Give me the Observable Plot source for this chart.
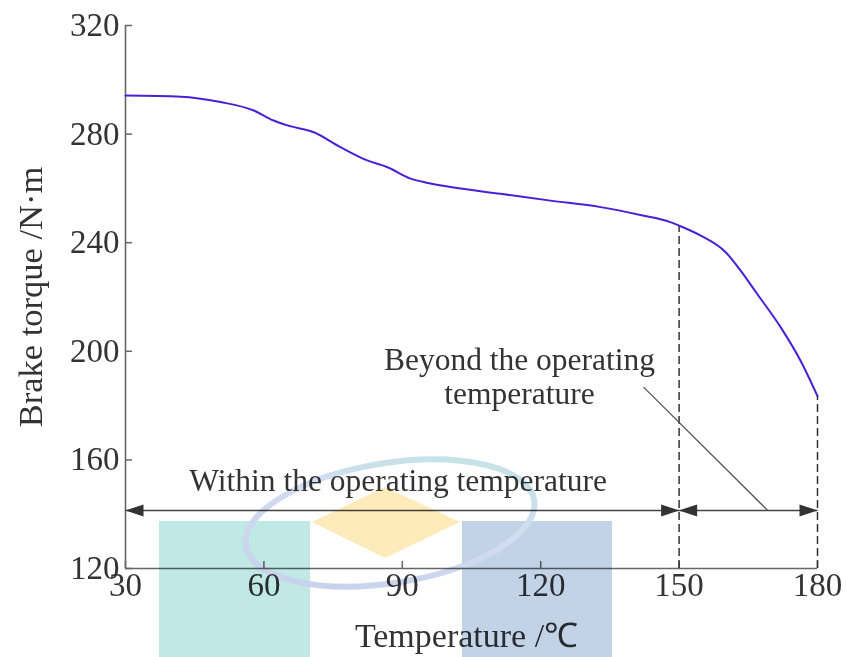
<!DOCTYPE html>
<html>
<head>
<meta charset="utf-8">
<script src="https://cdn.jsdelivr.net/npm/d3@7"></script>
<script src="https://cdn.jsdelivr.net/npm/@observablehq/plot@0.6"></script>
<style>
  html, body { margin: 0; padding: 0; background: #fff; }
  #wrap { position: relative; width: 846px; height: 657px; overflow: hidden; }
  #wm { position: absolute; left: 0; top: 0; mix-blend-mode: multiply; pointer-events: none; }
</style>
</head>
<body>
<div id="wrap"></div>
<script>
// Data
const temperature = [30, 42, 50.6, 57.8, 62.1, 65.1, 70.8, 76.6, 82.4, 86.8, 91.8, 95, 100.5, 111.3, 122.1, 133, 141.6, 148.1, 150, 154.6, 160.1, 163.3, 166.9, 172, 176.3, 180];
const torque      = [294.2, 293.8, 291.8, 288.7, 285, 283.2, 280.7, 275.2, 270.3, 267.8, 263.6, 262.2, 260.5, 258.0, 255.5, 253.1, 250.2, 247.6, 246.3, 242.7, 236.5, 229.8, 221.2, 208.9, 196.6, 183.5];
const xTicks = [30, 60, 90, 120, 150, 180];
const yTicks = [120, 160, 200, 240, 280, 320];
const boundaries = [150, 180];
const rangeStarts = [30, 150];
const rangeEnds = [150, 180];
const arrowLevel = 141.4;
const labelWithin = "Within the operating temperature";
const labelBeyond = "Beyond the operating\ntemperature";
const withinPos = [89.1, 152.4];
const beyondPos = [115.4, 202.3];
const leader = [142.3, 186.8, 169.2, 141.4];
const xLabel = "Temperature /℃";
const yLabel = "Brake torque /N·m";

const xDomain = [30, 180];
const yDomain = [120, 320];
const W = 846, H = 657, mL = 125, mR = 29, mT = 25, mB = 89;

const curve = temperature.map((t, i) => ({t, v: torque[i]}));
const valueAt = t => curve.find(d => d.t === t).v;
const dashed = boundaries.map(t => ({t, v: valueAt(t)}));
const ranges = rangeStarts.map((s, i) => ({s, e: rangeEnds[i]}));

// inward tick length (7px) expressed in data units
const xPerPx = (xDomain[1] - xDomain[0]) / (W - mL - mR);
const yPerPx = (yDomain[1] - yDomain[0]) / (H - mT - mB);
const tickPx = 7;

const ink = "#333";
const font = "Liberation Serif, Times New Roman, serif";

// filled arrowheads as custom symbols (tip at the anchor point)
const headRight = {draw(ctx) { ctx.moveTo(0, 0); ctx.lineTo(-18, -6); ctx.lineTo(-18, 6); ctx.closePath(); }};
const headLeft  = {draw(ctx) { ctx.moveTo(0, 0); ctx.lineTo(18, -6); ctx.lineTo(18, 6); ctx.closePath(); }};

const chart = Plot.plot({
  width: W,
  height: H,
  marginLeft: mL,
  marginRight: mR,
  marginTop: mT,
  marginBottom: mB,
  style: {fontFamily: font, fontSize: "33px", color: ink, background: "transparent"},
  x: {domain: xDomain},
  y: {domain: yDomain},
  marks: [
    Plot.axisX({ticks: xTicks, tickSize: 0, tickPadding: 4, label: null, fill: ink, fontSize: 33}),
    Plot.axisY({ticks: yTicks, tickSize: 0, tickPadding: 6, label: null, fill: ink, fontSize: 33}),
    Plot.ruleX(xTicks, {x: d => d, y1: yDomain[0], y2: yDomain[0] + tickPx * yPerPx, stroke: "#666", strokeWidth: 1.5}),
    Plot.ruleY(yTicks, {y: d => d, x1: xDomain[0], x2: xDomain[0] + tickPx * xPerPx, stroke: "#666", strokeWidth: 1.5}),
    Plot.ruleX([xDomain[0]], {y1: yDomain[0], y2: yDomain[1], stroke: "#666", strokeWidth: 1.6}),
    Plot.ruleY([yDomain[0]], {x1: xDomain[0], x2: xDomain[1], stroke: "#666", strokeWidth: 1.6}),
    Plot.ruleX(dashed, {x: "t", y1: yDomain[0], y2: "v", stroke: "#333", strokeWidth: 1.5, strokeDasharray: "8,4"}),
    Plot.link(ranges, {x1: "s", x2: "e", y1: arrowLevel, y2: arrowLevel, stroke: "#444", strokeWidth: 1.5}),
    Plot.dot(ranges, {x: "s", y: arrowLevel, symbol: headLeft, fill: "#333", stroke: "none"}),
    Plot.dot(ranges, {x: "e", y: arrowLevel, symbol: headRight, fill: "#333", stroke: "none"}),
    Plot.link([leader], {x1: d => d[0], y1: d => d[1], x2: d => d[2], y2: d => d[3], stroke: "#555", strokeWidth: 1.3}),
    Plot.line(curve, {x: "t", y: "v", stroke: "#4a1fd6", strokeWidth: 2, curve: "monotone-x"}),
    Plot.text([labelWithin], {x: withinPos[0], y: withinPos[1], fontSize: 31.5, fill: ink, lineAnchor: "middle"}),
    Plot.text([labelBeyond], {x: beyondPos[0], y: beyondPos[1], fontSize: 31.5, fill: ink, lineAnchor: "top", lineHeight: 1.1}),
    Plot.text([xLabel], {frameAnchor: "bottom", dx: -5, dy: 68, fontSize: 34, fill: ink, lineAnchor: "middle", textAnchor: "middle"}),
    Plot.text([yLabel], {frameAnchor: "left", dx: -95, rotate: -90, fontSize: 34.5, fill: ink, lineAnchor: "middle", textAnchor: "middle"})
  ]
});
document.getElementById("wrap").appendChild(chart);

// decorative watermark overlay seen in the reference image
const wm = `
<svg id="wm" width="846" height="657" xmlns="http://www.w3.org/2000/svg">
  <defs>
    <linearGradient id="eg" x1="0" y1="1" x2="1" y2="0">
      <stop offset="0" stop-color="#c3cfec"/>
      <stop offset="0.55" stop-color="#d3dcf0"/>
      <stop offset="1" stop-color="#bfe6e4"/>
    </linearGradient>
  </defs>
  <rect x="159" y="521" width="151" height="136" fill="#c0e8e5"/>
  <rect x="462" y="521" width="150" height="136" fill="#c2d3e8"/>
  <polygon points="312,522 385,487 460,522 385,558" fill="#fdebbb"/>
  <ellipse cx="390" cy="523" rx="146" ry="60" transform="rotate(-9 390 523)" fill="none" stroke="url(#eg)" stroke-width="6"/>
</svg>`;
document.getElementById("wrap").insertAdjacentHTML("beforeend", wm);
</script>
</body>
</html>
